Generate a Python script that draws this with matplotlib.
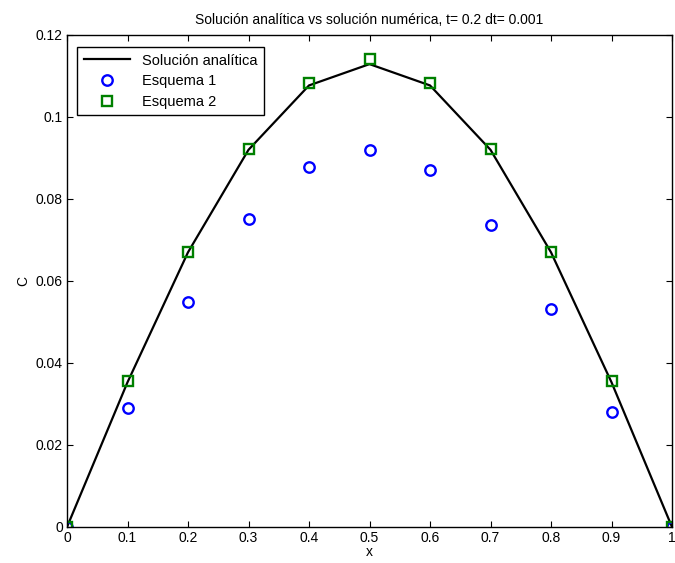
import numpy as np
import matplotlib.pyplot as plt

plt.rcParams['font.family'] = ['Liberation Sans', 'DejaVu Sans']

# data
x = [0.0, 0.1, 0.2, 0.3, 0.4, 0.5, 0.6, 0.7, 0.8, 0.9, 1.0]
analitica = [0.0, 0.0353, 0.0670, 0.0920, 0.1077, 0.1129, 0.1077, 0.0920, 0.0670, 0.0353, 0.0]
esquema1 = [0.0, 0.0291, 0.0549, 0.0751, 0.0879, 0.0920, 0.0870, 0.0737, 0.0532, 0.0280, 0.0]
esquema2 = [0.0, 0.0355, 0.0671, 0.0922, 0.1084, 0.1141, 0.1084, 0.0922, 0.0671, 0.0355, 0.0]

xticks = [0, 0.1, 0.2, 0.3, 0.4, 0.5, 0.6, 0.7, 0.8, 0.9, 1]
yticks = [0, 0.02, 0.04, 0.06, 0.08, 0.1, 0.12]

fig = plt.figure(figsize=(6.75, 5.63), dpi=100)
ax = fig.add_axes([67/675, 36/563, (672-67)/675, (527-35)/563])

ax.plot(x, analitica, color='black', lw=1.6, label='Solución analítica')
ax.plot(x, esquema1, 'o', color='blue', mfc='none', mew=1.7, ms=7.5, label='Esquema 1')
ax.plot(x, esquema2, 's', color='green', mfc='none', mew=1.7, ms=7.5, label='Esquema 2')

ax.set_xlim(0, 1)
ax.set_ylim(0, 0.12)
ax.set_xticks(xticks)
ax.set_xticklabels(['0', '0.1', '0.2', '0.3', '0.4', '0.5', '0.6', '0.7', '0.8', '0.9', '1'])
ax.set_yticks(yticks)
ax.set_yticklabels(['0', '0.02', '0.04', '0.06', '0.08', '0.1', '0.12'])
ax.tick_params(direction='in', length=4, width=0.8, labelsize=10, top=True, right=True, pad=3)
for s in ax.spines.values():
    s.set_linewidth(1.0)

ax.set_xlabel('x', fontsize=10, labelpad=0)
ax.set_ylabel('C', fontsize=10, labelpad=4)
ax.set_title('Solución analítica vs solución numérica, t= 0.2 dt= 0.001', fontsize=10, pad=8)

leg = ax.legend(loc='upper left', bbox_to_anchor=(10/605, 1 - 12/492), borderaxespad=0,
                fontsize=10.5, handlelength=3.2, fancybox=False, framealpha=1,
                edgecolor='black', borderpad=0.45, labelspacing=0.45)
leg.get_frame().set_linewidth(1.0)

fig.savefig('out.png', dpi=100)
